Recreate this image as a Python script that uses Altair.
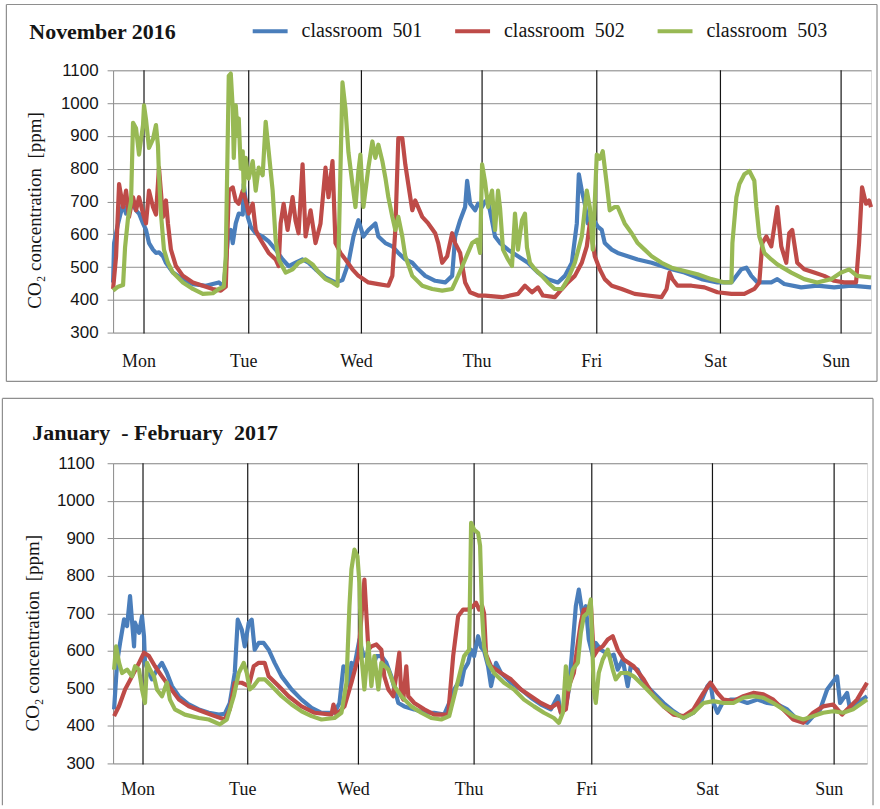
import altair as alt
import pandas as pd

# Classroom names and their line colours
ROOMS = ["classroom\u00a0 501", "classroom\u00a0 502", "classroom\u00a0 503"]
COLORS = ["#4A7EBB", "#BE4B48", "#98B954"]

DAY_NAMES = ["Mon", "Tue", "Wed", "Thu", "Fri", "Sat", "Sun"]

# Position of each day boundary on the time-step axis
nov_day_t = [31, 136, 249, 370, 485, 609, 730]
jan_day_t = [30, 135, 246, 362, 480, 601, 723]

# November 2016 week: (time step, CO2 ppm)
nov_501 = [(0,453),(1,573),(5,633),(10,693),(13,663),(18,703),(23,673),(26,663),(30,633),(33,613),(36,573),(40,553),(43,543),(46,545),(50,533),(53,513),(60,483),(70,463),(80,448),(93,443),(106,453),(111,440),(115,583),(118,613),(120,573),(123,633),(126,663),(130,660),(131,753),(135,653),(138,623),(143,603),(150,593),(156,578),(163,553),(170,523),(176,503),(183,513),(190,523),(196,513),(203,493),(213,468),(223,453),(230,460),(236,513),(241,593),(246,643),(251,593),(256,613),(263,633),(266,593),(273,573),(280,563),(286,543),(293,523),(300,513),(306,493),(313,473),(323,458),(333,453),(340,473),(343,593),(348,643),(353,683),(355,763),(358,693),(363,673),(366,693),(370,683),(373,700),(376,700),(380,640),(383,593),(388,573),(396,553),(406,533),(416,513),(426,483),(436,463),(446,453),(453,473),(460,513),(465,633),(467,783),(470,733),(473,693),(476,633),(480,653),(486,623),(490,613),(493,573),(500,553),(506,543),(516,533),(526,523),(540,513),(550,503),(560,493),(573,483),(590,463),(606,453),(620,453),(630,493),(635,498),(640,473),(646,453),(660,453),(666,463),(673,448),(690,438),(706,443),(723,438),(740,443),(760,438)]
nov_502 = [(0,433),(3,533),(6,753),(10,683),(13,733),(16,653),(20,713),(23,673),(26,713),(30,663),(33,633),(36,733),(40,683),(43,660),(46,803),(50,653),(53,703),(55,633),(58,553),(63,503),(70,473),(80,453),(90,443),(100,433),(108,428),(113,440),(116,733),(120,743),(123,703),(126,693),(130,733),(133,703),(136,663),(140,693),(143,613),(146,593),(150,573),(156,543),(163,523),(166,503),(168,633),(171,693),(175,613),(180,713),(183,640),(186,603),(190,813),(193,593),(198,673),(203,573),(208,633),(213,803),(216,713),(220,823),(223,573),(228,543),(233,523),(240,493),(246,473),(256,453),(266,448),(276,443),(280,473),(283,613),(286,893),(290,893),(293,813),(296,753),(300,673),(303,703),(310,653),(316,633),(323,603),(326,573),(330,513),(335,533),(340,603),(343,573),(348,543),(353,453),(358,423),(366,413),(373,413),(390,408),(406,418),(413,443),(420,423),(426,438),(431,413),(443,408),(450,433),(456,453),(463,473),(470,513),(475,563),(478,633),(481,573),(483,533),(488,493),(493,463),(500,443),(510,433),(523,418),(536,413),(550,408),(555,433),(558,483),(561,463),(566,443),(580,443),(593,438),(606,423),(620,418),(633,418),(643,433),(648,453),(651,573),(655,593),(660,563),(663,623),(666,683),(670,563),(675,513),(678,603),(681,613),(686,513),(693,493),(703,483),(713,473),(723,458),(733,453),(745,453),(748,573),(751,743),(755,693),(758,703),(760,683)]
nov_503 = [(0,428),(5,440),(10,445),(12,560),(13,590),(15,650),(18,700),(20,940),(23,923),(26,843),(30,933),(31,993),(33,950),(36,863),(40,890),(43,933),(45,870),(46,783),(48,663),(51,553),(55,513),(60,483),(70,453),(80,433),(90,418),(100,420),(106,433),(111,440),(113,533),(116,1083),(118,1090),(120,983),(121,833),(123,993),(125,900),(126,953),(128,800),(130,853),(131,733),(133,833),(135,783),(136,770),(140,823),(143,733),(146,803),(150,780),(153,943),(156,853),(160,733),(163,583),(166,523),(173,483),(180,493),(186,513),(193,523),(200,508),(206,485),(213,463),(220,453),(225,443),(226,533),(230,1063),(233,983),(236,850),(240,753),(243,683),(246,793),(248,843),(251,683),(256,803),(260,883),(263,833),(266,873),(270,823),(273,773),(276,713),(280,653),(283,613),(286,653),(290,593),(293,533),(300,473),(310,443),(320,433),(330,428),(340,433),(346,473),(353,523),(360,573),(365,583),(368,543),(370,813),(373,760),(376,683),(380,733),(383,613),(386,733),(388,680),(391,553),(396,523),(400,503),(403,663),(406,553),(410,643),(413,663),(415,560),(418,513),(423,493),(430,473),(436,453),(443,433),(450,433),(456,463),(463,513),(470,593),(475,733),(478,683),(481,553),(485,843),(488,830),(491,853),(495,753),(498,673),(503,683),(506,683),(513,633),(520,603),(526,573),(533,553),(540,533),(550,513),(560,498),(573,488),(586,478),(600,463),(613,453),(620,453),(621,573),(625,713),(628,753),(633,783),(638,793),(643,763),(645,683),(648,593),(653,543),(660,523),(666,508),(680,483),(693,463),(706,453),(720,463),(730,483),(738,493),(746,473),(760,468)]

# January - February 2017 week: (time step, CO2 ppm)
jan_501 = [(1,444),(4,568),(7,621),(11,684),(14,666),(17,746),(21,612),(22,675),(26,648),(29,692),(31,639),(32,568),(36,541),(39,524),(44,550),(49,568),(54,541),(59,506),(66,479),(76,457),(86,444),(96,435),(106,430),(112,432),(117,461),(122,541),(125,683),(129,657),(132,612),(136,675),(139,683),(142,603),(146,621),(151,621),(156,603),(162,568),(169,532),(179,497),(189,470),(199,448),(209,435),(222,435),(227,461),(231,559),(234,550),(237,505),(239,568),(242,560),(247,630),(251,586),(256,595),(259,541),(264,586),(269,586),(274,568),(279,532),(286,461),(292,452),(302,444),(312,435),(322,435),(332,430),(337,461),(342,497),(346,515),(349,510),(352,550),(356,568),(359,603),(362,586),(366,639),(369,610),(372,600),(376,559),(379,506),(384,568),(389,541),(399,515),(409,497),(419,475),(429,457),(439,444),(446,479),(449,435),(454,452),(457,497),(461,621),(464,719),(467,763),(471,692),(474,719),(477,630),(481,586),(484,621),(489,603),(494,595),(499,586),(502,590),(506,550),(511,577),(516,506),(519,559),(526,550),(532,515),(542,488),(552,461),(562,439),(572,421),(582,435),(589,461),(596,506),(599,515),(602,461),(606,435),(611,461),(619,470),(626,470),(636,461),(646,470),(656,461),(666,457),(676,444),(686,417),(696,408),(702,426),(709,444),(716,497),(721,515),(726,532),(729,461),(736,488),(739,444),(746,461),(756,479)]
jan_502 = [(1,426),(6,453),(12,497),(19,532),(26,568),(31,595),(36,586),(42,559),(49,532),(56,506),(66,470),(76,452),(89,439),(102,426),(112,417),(117,444),(122,515),(129,515),(136,506),(141,559),(146,568),(152,568),(156,532),(166,506),(176,479),(189,452),(202,435),(219,430),(221,457),(224,430),(232,452),(239,515),(246,586),(249,692),(252,790),(256,603),(259,612),(264,617),(269,603),(272,532),(276,497),(281,479),(287,595),(289,480),(291,470),(294,559),(296,479),(302,461),(312,444),(322,430),(336,430),(341,586),(346,692),(351,710),(356,710),(361,719),(364,728),(367,710),(370,720),(372,700),(374,590),(379,559),(389,541),(399,524),(409,497),(419,479),(429,461),(439,448),(446,461),(449,435),(454,444),(457,506),(462,541),(466,621),(469,675),(472,710),(476,710),(479,728),(482,586),(486,603),(491,612),(496,630),(501,639),(506,603),(512,577),(522,559),(532,524),(542,479),(552,452),(562,430),(572,426),(582,444),(592,488),(599,515),(606,488),(612,470),(622,466),(632,479),(642,488),(652,484),(662,470),(672,444),(682,417),(692,408),(702,435),(712,452),(722,457),(731,430),(736,444),(746,470),(756,515)]
jan_503 = [(1,550),(3,612),(6,568),(9,541),(14,550),(19,532),(22,559),(26,550),(29,497),(32,461),(34,568),(37,550),(41,532),(44,497),(49,479),(54,515),(57,470),(62,444),(72,430),(86,421),(96,417),(107,404),(114,417),(121,479),(126,541),(131,568),(134,541),(137,497),(141,506),(146,524),(152,524),(159,506),(169,479),(179,457),(189,439),(199,426),(209,417),(222,421),(229,435),(234,515),(237,719),(239,817),(242,870),(245,852),(247,781),(249,586),(252,497),(256,621),(259,506),(262,586),(266,497),(269,568),(276,550),(282,506),(289,479),(299,452),(309,435),(319,421),(329,417),(337,426),(342,479),(347,532),(352,586),(357,603),(359,941),(362,923),(366,914),(368,880),(370,700),(372,610),(376,568),(382,541),(392,515),(402,497),(412,470),(422,452),(432,435),(442,421),(447,408),(451,435),(454,559),(457,497),(461,550),(466,568),(469,648),(472,692),(476,701),(479,737),(482,497),(484,461),(487,541),(491,577),(496,603),(501,550),(504,524),(509,541),(516,541),(522,532),(532,506),(542,479),(552,452),(562,435),(572,421),(582,435),(592,461),(602,466),(612,461),(622,461),(632,475),(642,479),(652,475),(662,461),(672,444),(682,426),(692,417),(702,426),(712,435),(722,439),(732,435),(742,444),(756,470)]

Y_TICKS = [300, 400, 500, 600, 700, 800, 900, 1000, 1100]

SERIF = "Liberation Serif"
SANS = "Liberation Sans"
GRID = "#8e8e8e"
INK = "#151515"


def series_frame(series):
    rows = []
    for room, pairs in zip(ROOMS, series):
        for t, v in pairs:
            rows.append({"t": t, "ppm": v, "room": room})
    return pd.DataFrame(rows)


def panel(series, day_t, width, height, x_max, title, title_pos, ytitle_pos,
          label_pad, day_label_dy, frame_segments, show_legend):
    xenc = alt.X("t:Q", scale=alt.Scale(domain=[0, x_max], nice=False, zero=False), axis=None)
    yscale = alt.Scale(domain=[300, 1100], nice=False, zero=False)
    yaxis = alt.Axis(
        values=Y_TICKS, format="d", grid=True, gridColor=GRID, gridWidth=1,
        domainColor=GRID, tickColor=GRID, tickSize=6,
        labelFont=SANS, labelFontSize=17, labelColor=INK, labelPadding=label_pad,
        title="CO\u2082 concentration\u00a0 [ppm]", titleFont=SERIF, titleFontSize=19,
        titleFontWeight="normal", titleColor=INK, titleAngle=270,
        titleAlign="center", titleBaseline="middle",
        titleX=ytitle_pos[0], titleY=ytitle_pos[1],
    )
    if show_legend:
        legend = alt.Legend(
            orient="none", legendX=138, legendY=-59, direction="horizontal",
            title=None, symbolType="stroke", symbolSize=1225, symbolStrokeWidth=4,
            labelFont=SERIF, labelFontSize=20, labelColor=INK, labelOffset=12,
            columnPadding=24,
        )
    else:
        legend = None

    lines = alt.Chart(series_frame(series)).mark_line(
        strokeWidth=4.2, strokeJoin="round"
    ).encode(
        x=xenc,
        y=alt.Y("ppm:Q", scale=yscale, axis=yaxis),
        color=alt.Color("room:N", scale=alt.Scale(domain=ROOMS, range=COLORS), legend=legend),
    )

    days = pd.DataFrame({"t": day_t, "day": DAY_NAMES})
    rules = alt.Chart(days).mark_rule(color=INK, strokeWidth=1.2).encode(
        x=xenc, y=alt.value(0), y2=alt.value(height + 1)
    )
    day_labels = alt.Chart(days).mark_text(
        font=SERIF, fontSize=18, dx=-5, baseline="middle", color=INK
    ).encode(x=xenc, y=alt.value(height + day_label_dy), text="day:N")

    head = alt.Chart(pd.DataFrame({"label": [title]})).mark_text(
        font=SERIF, fontSize=22, fontWeight="bold", align="left", baseline="middle", color=INK
    ).encode(x=alt.value(title_pos[0]), y=alt.value(title_pos[1]), text="label:N")

    one = pd.DataFrame({"k": [0]})
    frame = [
        alt.Chart(one).mark_rule(color=GRID, strokeWidth=1.2).encode(
            x=alt.value(x1), x2=alt.value(x2), y=alt.value(y1), y2=alt.value(y2)
        )
        for (x1, y1, x2, y2) in frame_segments
    ]

    return alt.layer(*frame, rules, lines, day_labels, head).properties(
        width=width, height=height
    )


top = panel(
    [nov_501, nov_502, nov_503], nov_day_t, 760, 263, 760,
    "November 2016", (-84, -38), (-79, 140), 9, 30,
    [(-107, -66, 766, -66), (-107, 312, 766, 312), (-107, -66, -107, 312), (766, -66, 766, 312)],
    True,
)
bottom = panel(
    [jan_501, jan_502, jan_503], jan_day_t, 756, 301, 756,
    "January\u00a0 - February\u00a0 2017", (-81, -30), (-81, 170), 13, 27,
    [(-111, -65, 762, -65), (-111, -65, -111, 343), (762, -65, 762, 343)],
    False,
)

chart = alt.ConcatChart(
    concat=[top, bottom], columns=1, spacing=13, align="none", bounds="full"
).resolve_scale(
    x="independent", y="independent", color="independent"
).properties(
    padding={"left": 0.4, "top": 1.4, "right": 1, "bottom": 0}
).configure_view(
    strokeWidth=0
).configure(background="white")

chart.save("out.html", embed_options={"renderer": "svg", "actions": False})
